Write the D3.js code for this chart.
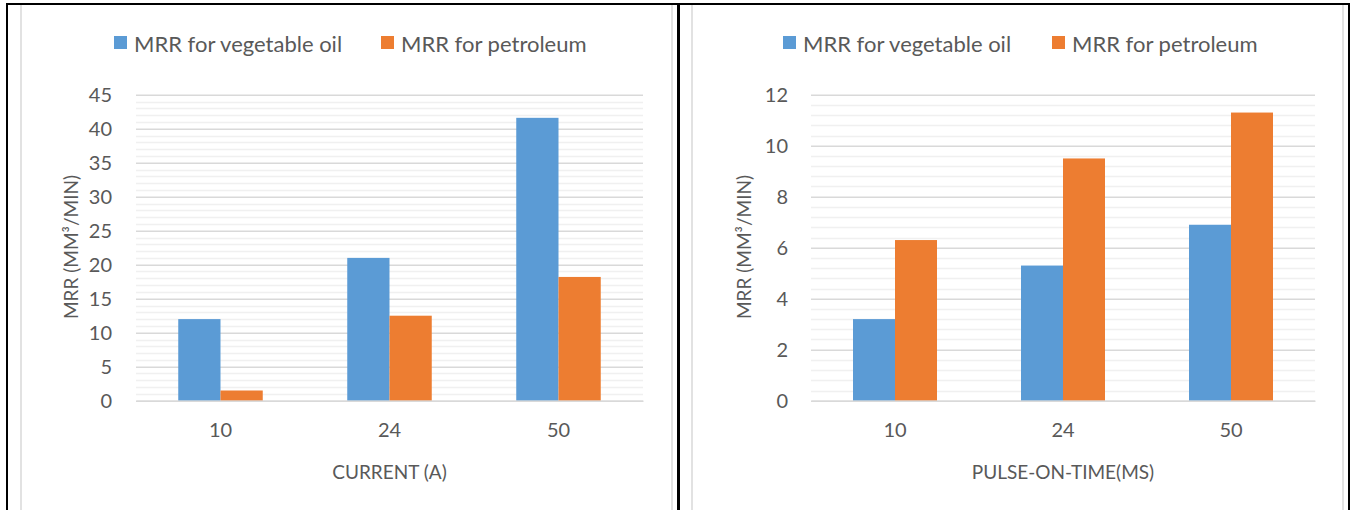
<!DOCTYPE html>
<html><head><meta charset="utf-8">
<script src="https://cdn.jsdelivr.net/npm/d3@7"></script>
<style>
html,body{margin:0;padding:0;background:#fff;}
svg text{font-family:Lato,"Noto Sans",sans-serif;fill:#595959;}
</style></head>
<body><svg id="c" width="1354" height="510"></svg>
<script>
const categories = ["10", "24", "50"];
const seriesNames = ["MRR for vegetable oil", "MRR for petroleum"];
const currentVeg = [12, 21, 41.6];
const currentPet = [1.5, 12.5, 18.2];
const pulseVeg = [3.2, 5.3, 6.9];
const pulsePet = [6.3, 9.5, 11.3];
const leftTicks = [0, 5, 10, 15, 20, 25, 30, 35, 40, 45];
const rightTicks = [0, 2, 4, 6, 8, 10, 12];
const leftMinorStep = 1;
const rightMinorStep = 0.4;
const leftXTitle = "CURRENT (A)";
const rightXTitle = "PULSE-ON-TIME(MS)";
const yTitle = "MRR (MM³/MIN)";
const colors = ["#5B9BD5", "#ED7D31"];

const svg = d3.select("#c");

function drawChart(cfg) {
  const g = svg.append("g");
  g.append("rect").attr("x", cfg.box[0]).attr("y", cfg.box[1]).attr("width", cfg.box[2]).attr("height", cfg.box[3])
    .attr("fill", "#fff").attr("stroke", "#d9d9d9").attr("stroke-width", 1.5);

  const x = d3.scaleBand().domain(categories).range([cfg.plot[0], cfg.plot[1]]).paddingInner(0.5).paddingOuter(0.25);
  const xs = d3.scaleBand().domain([0, 1]).range([0, x.bandwidth()]);
  const y = d3.scaleLinear().domain([0, cfg.max]).range([cfg.plot[3], cfg.plot[2]]);

  const minor = d3.range(0, cfg.max + 1e-9, cfg.minor).filter(v => !cfg.ticks.some(t => Math.abs(t - v) < 1e-6));
  g.selectAll(".minor").data(minor).join("line")
    .attr("x1", cfg.plot[0]).attr("x2", cfg.plot[1])
    .attr("y1", d => Math.round(y(d)) + 0.5).attr("y2", d => Math.round(y(d)) + 0.5)
    .attr("stroke", "#f0f0f0").attr("stroke-width", 1.5);

  const ya = g.append("g").attr("transform", `translate(${cfg.plot[0]},0)`)
    .call(d3.axisLeft(y).tickValues(cfg.ticks).tickSize(-(cfg.plot[1] - cfg.plot[0])).tickPadding(cfg.plot[0] - cfg.tickRight));
  ya.select(".domain").remove();
  ya.selectAll(".tick line").attr("stroke", "#d9d9d9").attr("stroke-width", 1.5);
  ya.selectAll(".tick text").attr("font-size", 20).style("font-family", "Lato").attr("fill", "#595959");

  const series = [cfg.veg, cfg.pet];
  series.forEach((vals, si) => {
    g.selectAll(".bar" + si).data(vals).join("rect")
      .attr("x", (d, i) => x(categories[i]) + xs(si))
      .attr("width", xs.bandwidth())
      .attr("y", d => y(d))
      .attr("height", d => y(0) - y(d))
      .attr("fill", colors[si]);
  });

  const xa = g.append("g").attr("transform", `translate(0,${y(0)})`)
    .call(d3.axisBottom(x).tickSize(0).tickPadding(22));
  xa.select(".domain").attr("stroke", "#d9d9d9").attr("stroke-width", 1.5);
  xa.selectAll(".tick text").attr("font-size", 20).style("font-family", "Lato").attr("fill", "#595959");

  g.append("text").attr("x", (cfg.plot[0] + cfg.plot[1]) / 2).attr("y", 471)
    .attr("text-anchor", "middle").attr("dominant-baseline", "central").attr("font-size", 19).text(cfg.xTitle);
  g.append("text").attr("transform", `translate(${cfg.yTitleX},247) rotate(-90)`)
    .attr("text-anchor", "middle").attr("dominant-baseline", "central").attr("font-size", 19).text(yTitle);

  const lg = g.append("g");
  seriesNames.forEach((name, si) => {
    const lx = cfg.legendX[si];
    lg.append("rect").attr("x", lx).attr("y", 36).attr("width", 13).attr("height", 13).attr("fill", colors[si]);
    lg.append("text").attr("x", lx + 20).attr("y", 43).attr("dominant-baseline", "central").attr("font-size", 22).text(name);
  });
}

drawChart({box: [21, 4, 651, 520], plot: [136, 643, 94.7, 400.7], max: 45, ticks: leftTicks, minor: leftMinorStep,
  veg: currentVeg, pet: currentPet, xTitle: leftXTitle, yTitleX: 70, tickRight: 112, legendX: [114, 381]});
drawChart({box: [692, 4, 651, 520], plot: [811, 1315, 94.7, 400.7], max: 12, ticks: rightTicks, minor: rightMinorStep,
  veg: pulseVeg, pet: pulsePet, xTitle: rightXTitle, yTitleX: 743, tickRight: 788, legendX: [783, 1052]});

const borders = [[6, 3, 2, 510], [677, 3, 3, 510], [1348, 3, 2, 510], [6, 3, 1344, 2]];
svg.selectAll(".bd").data(borders).join("rect").attr("x", d => d[0]).attr("y", d => d[1]).attr("width", d => d[2]).attr("height", d => d[3]).attr("fill", "#000");
</script></body></html>
